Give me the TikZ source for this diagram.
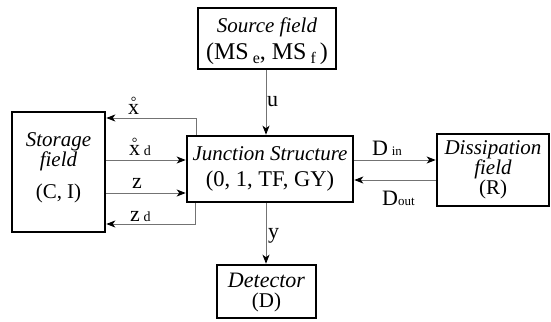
\documentclass[tikz,border=0pt]{standalone}
\usepackage{fontspec}
\setmainfont{Liberation Serif}
\usetikzlibrary{arrows.meta}
\newcommand\ringedx{\ooalign{x\cr\hidewidth\raisebox{8pt}{\fontsize{14}{14}\selectfont °}\hidewidth\cr}}
\newcommand\itf[1]{\textit{\fontsize{21}{21}\selectfont #1}}
\begin{document}
\begin{tikzpicture}[x=1pt,y=-1pt,
  box/.style={draw, line width=2.6pt, inner sep=0pt, align=center},
  arr/.style={draw=black!55, line width=0.9pt, -{Stealth[black,length=9pt,width=7pt,inset=2.5pt]}},
  lab/.style={font=\fontsize{22}{22}\selectfont, inner sep=0pt, anchor=base west}]
\useasboundingbox (0,0) rectangle (551,321);
% boxes
\node[box, minimum width=138pt, minimum height=61pt, font=\fontsize{24}{27}\selectfont] (src) at (267,38.5)
  {\rule{0pt}{21pt}\itf{Source field}\\(MS\,{\fontsize{16}{16}\selectfont\raisebox{-4pt}{e}}, MS\,{\fontsize{16}{16}\selectfont\raisebox{-4pt}{f}}\,)};
\node[box, minimum width=166pt, minimum height=66pt, font=\fontsize{22.5}{26}\selectfont] (jun) at (270,169)
  {\itf{Junction Structure}\\(0, 1, TF, GY)};
\node[box, minimum width=93pt, minimum height=120pt, font=\fontsize{21}{19}\selectfont] (sto) at (58.5,172)
  {\itf{Storage}\\\itf{field}\\[12pt](C, I)\rule[-13pt]{0pt}{13pt}};
\node[box, minimum width=112pt, minimum height=72pt, font=\fontsize{21}{19}\selectfont] (dis) at (493,170)
  {\itf{Dissipation}\\\itf{field}\\(R)};
\node[box, minimum width=99pt, minimum height=53pt, font=\fontsize{21}{20}\selectfont] (det) at (266.5,291.5)
  {\rule{0pt}{17pt}\textit{\fontsize{22}{22}\selectfont Detector}\\(D)};
% helper coordinates
\coordinate (cu) at (266,0);
\coordinate (cx) at (196,118);
\coordinate (cxd) at (0,160);
\coordinate (cz) at (0,193);
\coordinate (czd) at (195,224);
\coordinate (cdo) at (0,180);
% connectors
\draw[arr] (src.south -| cu) -- (jun.north -| cu);
\draw[arr] (jun.south -| cu) -- (det.north -| cu);
\draw[arr] (jun.north -| cx) |- (sto.east |- cx);
\draw[arr] (sto.east |- cxd) -- (jun.west |- cxd);
\draw[arr] (sto.east |- cz) -- (jun.west |- cz);
\draw[arr] (jun.south -| czd) |- (sto.east |- czd);
\draw[arr] (jun.east |- cxd) -- (dis.west |- cxd);
\draw[arr] (dis.west |- cdo) -- (jun.east |- cdo);
% labels
\node[lab] (lu) at (267,106) {u};
\node[lab] (ly) at (268,238) {y};
\node[lab] (lx) at (128,114) {\ringedx};
\node[lab] (lxd) at (129,155) {\ringedx\,{\fontsize{14}{14}\selectfont d}};
\node[lab] (lz) at (132,188) {z};
\node[lab] (lzd) at (130,221) {z\,{\fontsize{14}{14}\selectfont d}};
\node[lab] (ldin) at (372,155) {D\,{\fontsize{13}{13}\selectfont in}};
\node[lab] (ldout) at (382,205) {D{\fontsize{13}{13}\selectfont out}};
\end{tikzpicture}
\end{document}
